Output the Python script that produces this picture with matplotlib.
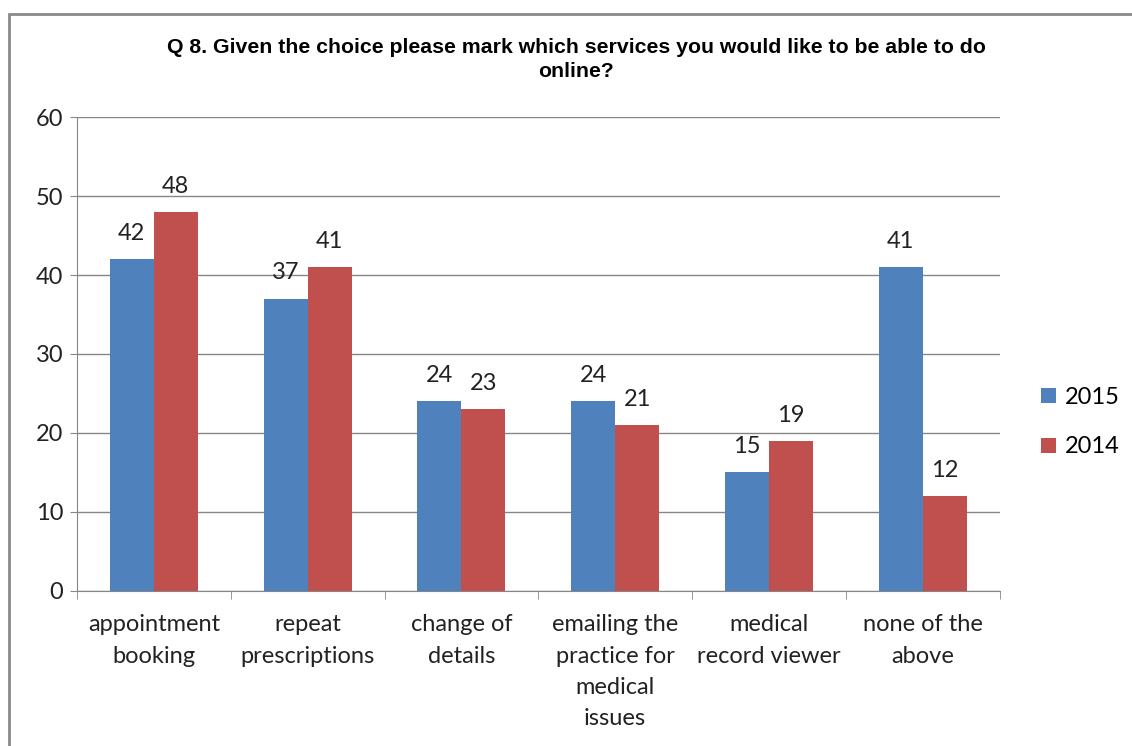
import matplotlib
matplotlib.use("Agg")
import matplotlib.pyplot as plt
import numpy as np
from matplotlib.patches import Rectangle

categories = ["appointment\nbooking", "repeat\nprescriptions", "change of\ndetails",
              "emailing the\npractice for\nmedical\nissues", "medical\nrecord viewer",
              "none of the\nabove"]
series_names = ["2015", "2014"]
values_2015 = [42, 37, 24, 24, 15, 41]
values_2014 = [48, 41, 23, 21, 19, 12]
colors = ["#4F81BD", "#C0504D"]

plt.rcParams["font.family"] = ["Lato", "DejaVu Sans"]

fig = plt.figure(figsize=(11.32, 7.46), dpi=100)
ax = fig.add_axes([0.068, 0.208, 0.815, 0.635])

x = np.arange(len(categories))
w = 0.286
for i, (vals, name, c) in enumerate(zip([values_2015, values_2014], series_names, colors)):
    pos = x + (i - 0.5) * w
    ax.bar(pos, vals, width=w, color=c, label=name, zorder=3)
    for px, v in zip(pos, vals):
        ax.annotate(str(v), (px, v), textcoords="offset points", xytext=(0, 11),
                    ha="center", va="bottom", fontsize=17, color="#222222")

ax.set_xlim(-0.5, len(categories) - 0.5)
ax.set_ylim(0, 60)
ax.set_yticks(range(0, 61, 10))
ax.tick_params(axis="y", labelsize=17, length=5, color="#868686", labelcolor="#222222", pad=5)
ax.yaxis.grid(True, color="#868686", linewidth=1, zorder=0)
ax.set_axisbelow(True)

ax.set_xticks(x)
ax.set_xticklabels(categories, fontsize=17, color="#222222", linespacing=1.6)
ax.tick_params(axis="x", length=0, pad=17)
ax.set_xticks(np.arange(-0.5, len(categories)), minor=True)
ax.tick_params(axis="x", which="minor", length=6, color="#868686")

for s in ["top", "right"]:
    ax.spines[s].set_visible(False)
for s in ["left", "bottom"]:
    ax.spines[s].set_color("#868686")

fig.text(0.509, 0.92, "Q 8. Given the choice please mark which services you would like to be able to do\nonline?",
         ha="center", va="center", fontsize=15.3, fontweight="bold",
         family=["Liberation Sans", "DejaVu Sans"], linespacing=1.3)

leg = fig.legend(loc="center left", bbox_to_anchor=(0.92, 0.434), frameon=False,
                 fontsize=17, handlelength=0.6, handleheight=0.6, handletextpad=0.4,
                 labelspacing=1.2, borderpad=0, borderaxespad=0)

fig.patches.append(Rectangle((9 / 1132, -0.05), 1.2, 1 - 14 / 746 + 0.05,
                             transform=fig.transFigure, fill=False,
                             edgecolor="#8a8a8a", linewidth=2))

fig.savefig("out.png", dpi=100)
